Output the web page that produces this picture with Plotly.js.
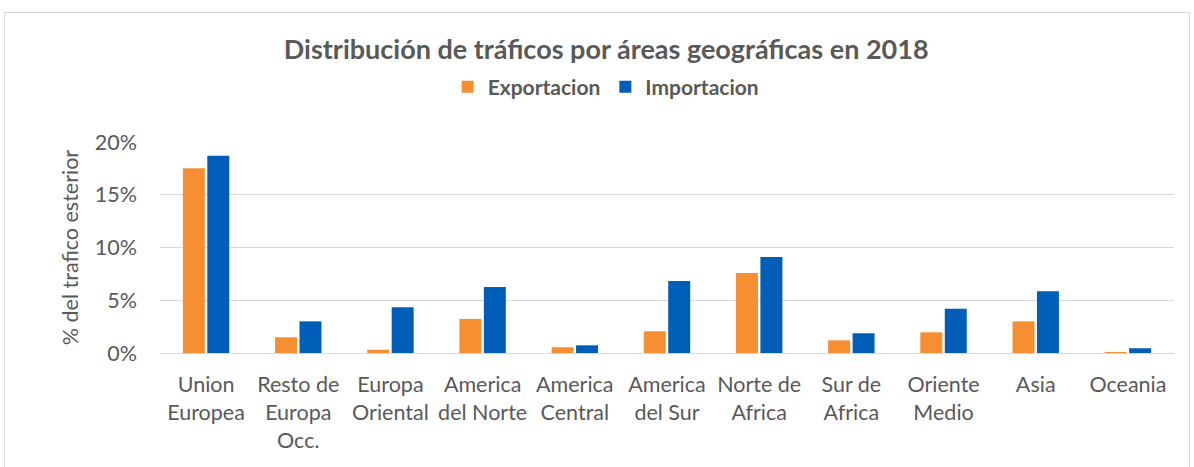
<!DOCTYPE html>
<html><head><meta charset="utf-8">
<script src="https://cdn.plot.ly/plotly-3.0.1.min.js"></script>
<style>
body{margin:0;background:#fff;}
#frame{position:absolute;left:4px;top:12px;width:1186px;height:460px;border:1px solid #d9d9d9;box-sizing:border-box;}
#chart{position:absolute;left:0;top:0;width:1194px;height:467px;}
</style></head>
<body>
<div id="frame"></div>
<div id="chart"></div>
<script>
const categories = ["Union<br>Europea","Resto de<br>Europa<br>Occ.","Europa<br>Oriental","America<br>del Norte","America<br>Central","America<br>del Sur","Norte de<br>Africa","Sur de<br>Africa","Oriente<br>Medio","Asia","Oceania"];
const exportacion = [0.1752,0.0149,0.0031,0.0323,0.0054,0.0206,0.0759,0.0120,0.0196,0.0300,0.0010];
const importacion = [0.1869,0.0300,0.0434,0.0626,0.0073,0.0683,0.0911,0.0187,0.0420,0.0585,0.0045];
const seriesNames = ["Exportacion","Importacion"];
const yTitle = "% del trafico esterior";
const chartTitle = "Distribución de tráficos por áreas geográficas en 2018";

const font = "Lato, 'Open Sans', sans-serif";
const data = [
  {type:'bar', name:seriesNames[0], x:categories, y:exportacion, marker:{color:'#F58F31'}},
  {type:'bar', name:seriesNames[1], x:categories, y:importacion, marker:{color:'#005EB8'}}
];
const layout = {
  width:1194, height:467,
  paper_bgcolor:'rgba(0,0,0,0)', plot_bgcolor:'rgba(0,0,0,0)',
  margin:{l:160, r:20, t:142, b:114},
  font:{family:font, color:'#595959', size:21},
  title:{text:'<b>'+chartTitle+'</b>', font:{size:27, color:'#595959', family:font}, xref:'paper', x:0.44, xanchor:'center', yref:'container', y:0.893, yanchor:'middle'},
  showlegend:true,
  legend:{orientation:'h', x:0.44, xanchor:'center', y:1.26, yanchor:'middle', font:{size:21, color:'#595959', family:font, weight:'bold'}, itemwidth:30, traceorder:'normal'},
  barmode:'group', bargap:0.47, bargroupgap:0.1,
  xaxis:{type:'category', showgrid:false, showline:true, linecolor:'#d9d9d9', linewidth:1, ticks:'', tickfont:{size:21.5, color:'#595959'}, ticklabelstandoff:12, automargin:false, fixedrange:true},
  yaxis:{range:[0,0.2], dtick:0.05, tickformat:'.0%', showgrid:true, gridcolor:'#d9d9d9', gridwidth:1, zeroline:true, zerolinecolor:'#d9d9d9', showline:false, ticks:'', tickfont:{size:21.5, color:'#595959'}, ticklabelstandoff:22, automargin:false,
    title:{text:yTitle, font:{size:21.5, color:'#595959'}, standoff:10}}
};
Plotly.newPlot('chart', data, layout, {displayModeBar:false, staticPlot:true});
</script>
</body></html>
